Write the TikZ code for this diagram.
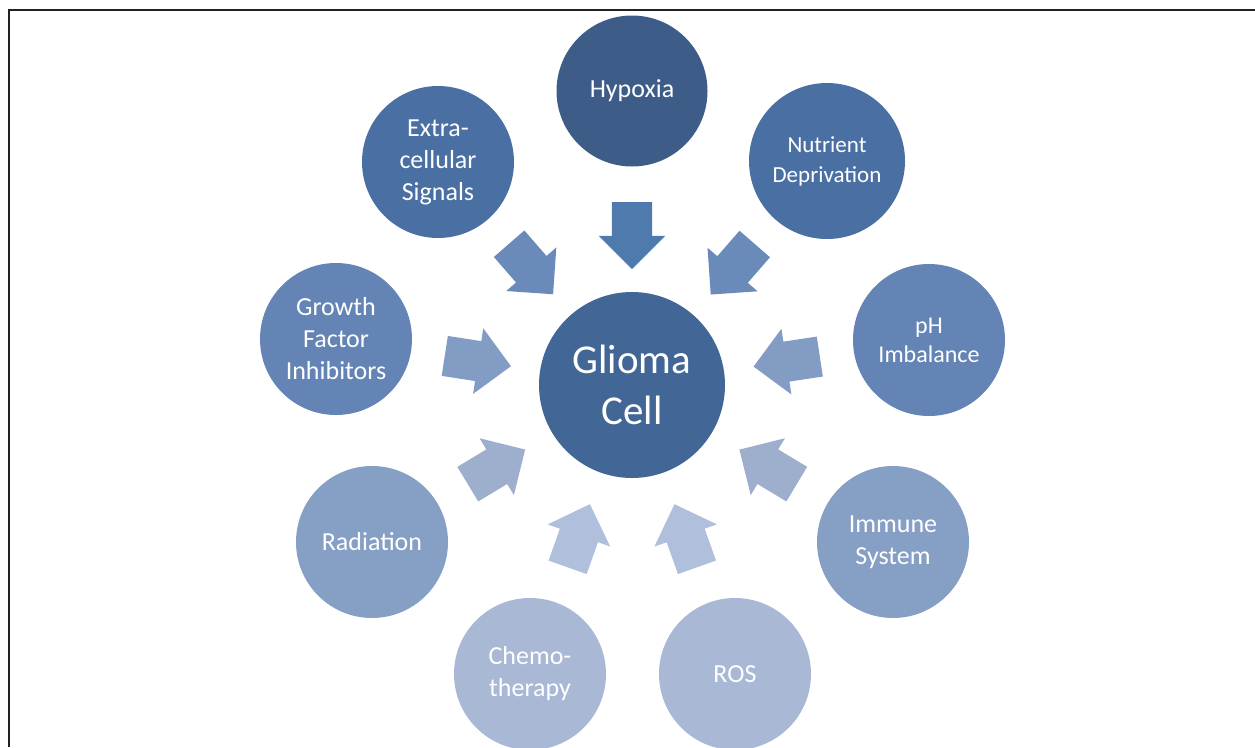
\documentclass[tikz,border=0pt]{standalone}
\usepackage{fontspec}
\setmainfont{Carlito}
\usetikzlibrary{shapes.arrows}

\definecolor{hypfill}{RGB}{61,92,136}
\definecolor{glifill}{RGB}{66,103,151}
\definecolor{ringA}{RGB}{74,112,163}
\definecolor{ringB}{RGB}{100,132,182}
\definecolor{ringC}{RGB}{134,159,196}
\definecolor{ringD}{RGB}{169,184,213}
\definecolor{arrTop}{RGB}{79,122,173}
\definecolor{arrA}{RGB}{106,138,186}
\definecolor{arrB}{RGB}{131,156,196}
\definecolor{arrC}{RGB}{158,175,205}
\definecolor{arrD}{RGB}{176,192,220}

\tikzset{
  bubble/.style={circle, minimum size=152pt, inner sep=0pt, text=white, align=center,
    font=\fontsize{26}{32}\selectfont},
  blockarrow/.style={single arrow, draw=none, minimum height=67pt, inner xsep=0pt,
    inner ysep=20pt, single arrow head extend=13pt, sloped, allow upside down, pos=0.44}
}

\begin{document}
\begin{tikzpicture}[x=1pt,y=-1pt]
\useasboundingbox (0,0) rectangle (1255,747);

%Frame
\draw [color={rgb,255:red,34;green,34;blue,34}, line width=2.5pt] (9,747) -- (9,10) -- (1255,10);

%Centre
\node [bubble, fill=glifill, minimum size=186pt, font=\fontsize{41}{51}\selectfont] (gli) at (632,385) {Glioma\\Cell};

%Outer ring
\node [bubble, fill=hypfill, minimum size=151pt] (hyp) at (632,91) {Hypoxia};
\node [bubble, fill=ringA] (ext) at (438,162) {Extra-\\cellular\\Signals};
\node [bubble, fill=ringA, minimum size=156pt, font=\fontsize{23}{30}\selectfont] (nut) at (827,161) {Nutrient\\Deprivation};
\node [bubble, fill=ringB] (gfi) at (336,339) {Growth\\Factor\\Inhibitors};
\node [bubble, fill=ringB, font=\fontsize{24}{29}\selectfont] (ph) at (929,340) {pH\\Imbalance};
\node [bubble, fill=ringC] (rad) at (372,542) {Radiation};
\node [bubble, fill=ringC] (imm) at (893,542) {Immune\\System};
\node [bubble, fill=ringD] (che) at (530,674) {Chemo-\\therapy};
\node [bubble, fill=ringD] (ros) at (735,674) {ROS};

%Arrows
\path (hyp) -- node [blockarrow, fill=arrTop, pos=0.47] (a1) {} (gli);
\path (ext) -- node [blockarrow, fill=arrA] (a2) {} (gli);
\path (nut) -- node [blockarrow, fill=arrA] (a3) {} (gli);
\path (gfi) -- node [blockarrow, fill=arrB] (a4) {} (gli);
\path (ph) -- node [blockarrow, fill=arrB] (a5) {} (gli);
\path (rad) -- node [blockarrow, fill=arrC] (a6) {} (gli);
\path (imm) -- node [blockarrow, fill=arrC] (a7) {} (gli);
\path (che) -- node [blockarrow, fill=arrD] (a8) {} (gli);
\path (ros) -- node [blockarrow, fill=arrD] (a9) {} (gli);
\end{tikzpicture}
\end{document}
